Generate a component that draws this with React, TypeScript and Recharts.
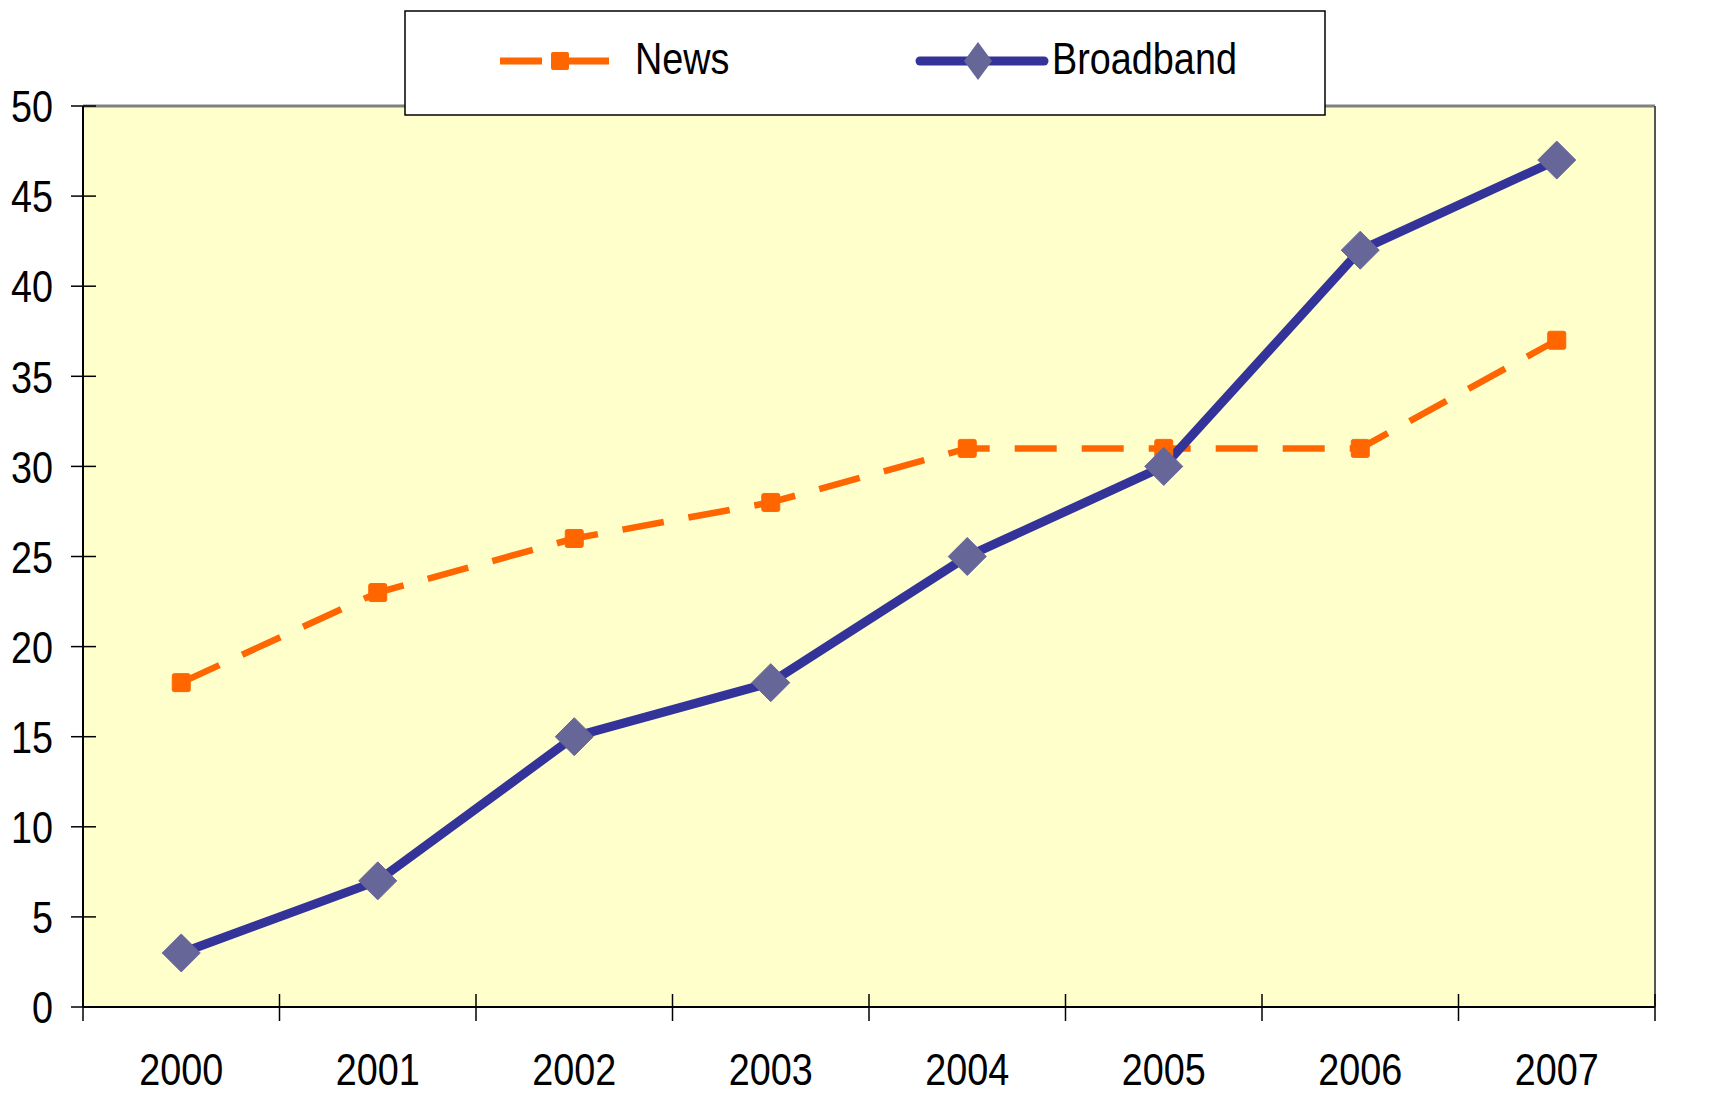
import React from 'react';
import { LineChart, Line, XAxis, YAxis, CartesianGrid, ReferenceLine } from 'recharts';

const years = ['2000', '2001', '2002', '2003', '2004', '2005', '2006', '2007'];
const news = [18, 23, 26, 28, 31, 31, 31, 37];
const broadband = [3, 7, 15, 18, 25, 30, 42, 47];
const yTicks = [0, 5, 10, 15, 20, 25, 30, 35, 40, 45, 50];

const data = years.map((y, i) => ({ year: y, News: news[i], Broadband: broadband[i] }));

const CHART_W = 1734;
const CHART_H = 1095;
const LEFT_W = 83;
const RIGHT_W = 79;
const PLOT_W = CHART_W - LEFT_W - RIGHT_W;
const BAND = PLOT_W / years.length;

const FONT = "'Liberation Sans', Arial, sans-serif";
const FS = 45;
const SX = 0.84;
const ORANGE = '#FF6600';
const NAVY = '#333399';
const DIAMOND = '#666699';

const NarrowText = ({ x, y, anchor, children }: any) => (
  <g transform={`translate(${x},${y}) scale(${SX},1)`}>
    <text x={0} y={0} dy="0.36em" textAnchor={anchor} fontFamily={FONT} fontSize={FS} fill="#000">
      {children}
    </text>
  </g>
);

const LeftTick = (props: any) => {
  const { x, y, payload } = props;
  return (
    <g>
      <line x1={x - 12} x2={x + 13} y1={y} y2={y} stroke="#000" strokeWidth={1.5} />
      <NarrowText x={x - 30} y={y} anchor="end">{payload.value}</NarrowText>
    </g>
  );
};

const RightTick = (props: any) => {
  const { x, y, payload } = props;
  return (
    <g>
      <line x1={x - 13} x2={x + 12} y1={y} y2={y} stroke="#000" strokeWidth={1.5} />
      <NarrowText x={x + 31} y={y} anchor="start">{payload.value}</NarrowText>
    </g>
  );
};

const YearTick = (props: any) => {
  const { x, y, payload, index } = props;
  const half = BAND / 2;
  return (
    <g>
      <line x1={x - half} x2={x - half} y1={y - 13} y2={y + 14} stroke="#000" strokeWidth={1.5} />
      {index === years.length - 1 && (
        <line x1={x + half} x2={x + half} y1={y - 13} y2={y + 14} stroke="#000" strokeWidth={1.5} />
      )}
      <NarrowText x={x} y={y + 62} anchor="middle">{payload.value}</NarrowText>
    </g>
  );
};

const SquareDot = (props: any) => {
  const { cx, cy, index } = props;
  if (cx == null || cy == null) return null;
  return <rect key={`sq-${index}`} x={cx - 9} y={cy - 9} width={18} height={18} rx={2} fill={ORANGE} stroke={ORANGE} />;
};

const DiamondDot = (props: any) => {
  const { cx, cy, index } = props;
  if (cx == null || cy == null) return null;
  const r = 19;
  return (
    <polygon
      key={`dm-${index}`}
      points={`${cx},${cy - r} ${cx + r},${cy} ${cx},${cy + r} ${cx - r},${cy}`}
      fill={DIAMOND}
      stroke={DIAMOND}
      strokeLinejoin="round"
    />
  );
};

const LegendBox = () => (
  <svg width={922} height={106} style={{ position: 'absolute', left: 404, top: 10, display: 'block' }}>
    <rect x={1} y={1} width={920} height={104} fill="#fff" stroke="#000" strokeWidth={1.5} />
    <line x1={96} x2={205} y1={51} y2={51} stroke={ORANGE} strokeWidth={7} strokeDasharray="42 25" />
    <rect x={147} y={42} width={18} height={18} rx={2} fill={ORANGE} />
    <NarrowText x={231} y={48} anchor="start">News</NarrowText>
    <line x1={516} x2={640} y1={51} y2={51} stroke={NAVY} strokeWidth={9} strokeLinecap="round" />
    <polygon points="574,32 588,51 574,70 560,51" fill={DIAMOND} />
    <NarrowText x={648} y={48} anchor="start">Broadband</NarrowText>
  </svg>
);

export default function App() {
  return (
    <div style={{ position: 'absolute', left: 0, top: 0, width: CHART_W, height: CHART_H, background: '#fff' }}>
      <LineChart width={CHART_W} height={CHART_H} data={data} margin={{ top: 106, right: 0, bottom: 0, left: 0 }}>
        <CartesianGrid horizontal={false} vertical={false} fill="#FFFFCC" />
        <XAxis
          dataKey="year"
          scale="band"
          tickLine={false}
          axisLine={{ stroke: '#000', strokeWidth: 2 }}
          tick={<YearTick />}
          tickSize={0}
          tickMargin={0}
          height={88}
          interval={0}
        />
        <YAxis
          yAxisId="left"
          orientation="left"
          width={LEFT_W}
          domain={[0, 50]}
          ticks={yTicks}
          tickLine={false}
          tickSize={0}
          tickMargin={0}
          axisLine={{ stroke: '#000', strokeWidth: 2 }}
          tick={<LeftTick />}
          interval={0}
        />
        <YAxis
          yAxisId="right"
          orientation="right"
          width={RIGHT_W}
          domain={[0, 50]}
          ticks={yTicks}
          tickLine={false}
          tickSize={0}
          tickMargin={0}
          axisLine={{ stroke: '#555', strokeWidth: 2 }}
          tick={<RightTick />}
          interval={0}
        />
        <ReferenceLine yAxisId="left" y={50} stroke="#808080" strokeWidth={3} />
        <Line
          yAxisId="left"
          dataKey="News"
          stroke={ORANGE}
          strokeWidth={6.5}
          strokeDasharray="42 25"
          dot={<SquareDot />}
          activeDot={false}
          isAnimationActive={false}
        />
        <Line
          yAxisId="left"
          dataKey="Broadband"
          stroke={NAVY}
          strokeWidth={9}
          dot={<DiamondDot />}
          activeDot={false}
          isAnimationActive={false}
        />
      </LineChart>
      <LegendBox />
    </div>
  );
}
